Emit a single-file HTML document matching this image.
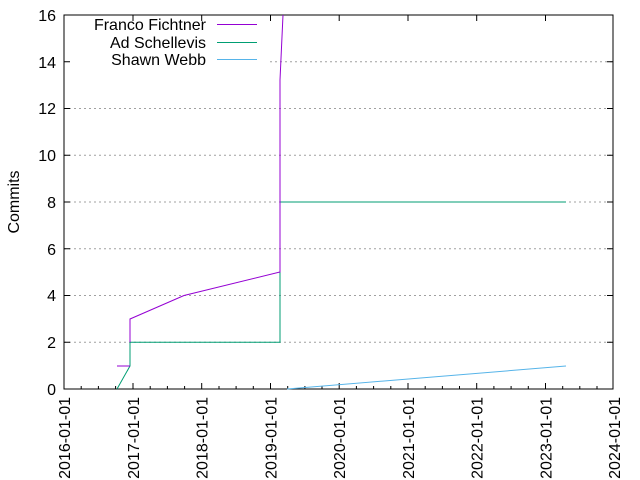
<!DOCTYPE html>
<html><head><style>body{margin:0;background:#fff}svg{display:block}</style></head><body>
<svg width="640" height="480" xmlns="http://www.w3.org/2000/svg" font-family="Liberation Sans, sans-serif" font-size="16" fill="#000">
<g stroke="#a0a0a0" stroke-dasharray="2,3" stroke-width="1">
<line x1="64" y1="342.3" x2="613" y2="342.3"/><line x1="64" y1="295.5" x2="613" y2="295.5"/>
<line x1="64" y1="248.8" x2="613" y2="248.8"/><line x1="64" y1="202" x2="613" y2="202"/>
<line x1="64" y1="155.3" x2="613" y2="155.3"/><line x1="64" y1="108.5" x2="613" y2="108.5"/>
<line x1="270" y1="61.8" x2="613" y2="61.8"/>
</g>
<rect x="64" y="15" width="549" height="374" fill="none" stroke="#000"/>
<g stroke="#000">
<path d="M64 342.3h6M64 295.5h6M64 248.8h6M64 202h6M64 155.3h6M64 108.5h6M64 61.8h6M607 342.3h6M607 295.5h6M607 248.8h6M607 202h6M607 155.3h6M607 108.5h6M607 61.8h6"/>
<path d="M133 389v-6M201.7 389v-6M270.5 389v-6M339.2 389v-6M408 389v-6M476.7 389v-6M545.5 389v-6M133 15v6M201.7 15v6M270.5 15v6M339.2 15v6M408 15v6M476.7 15v6M545.5 15v6"/>
<path d="M81.2 389v-3M98.4 389v-3M115.6 389v-3M150.2 389v-3M167.4 389v-3M184.6 389v-3M219 389v-3M236.1 389v-3M253.3 389v-3M287.7 389v-3M304.9 389v-3M322 389v-3M356.4 389v-3M373.6 389v-3M390.8 389v-3M425.2 389v-3M442.4 389v-3M459.5 389v-3M493.9 389v-3M511.1 389v-3M528.3 389v-3M562.7 389v-3M579.8 389v-3M597 389v-3"/>
</g>
<g text-anchor="end">
<text x="56" y="395">0</text><text x="56" y="348">2</text><text x="56" y="301">4</text><text x="56" y="255">6</text><text x="56" y="208">8</text><text x="56" y="161">10</text><text x="56" y="114">12</text><text x="56" y="68">14</text><text x="56" y="21">16</text>
</g>
<g text-anchor="end">
<text transform="translate(70,397) rotate(-90)">2016-01-01</text>
<text transform="translate(139,397) rotate(-90)">2017-01-01</text>
<text transform="translate(207.7,397) rotate(-90)">2018-01-01</text>
<text transform="translate(276.5,397) rotate(-90)">2019-01-01</text>
<text transform="translate(345.2,397) rotate(-90)">2020-01-01</text>
<text transform="translate(414,397) rotate(-90)">2021-01-01</text>
<text transform="translate(482.7,397) rotate(-90)">2022-01-01</text>
<text transform="translate(551.5,397) rotate(-90)">2023-01-01</text>
<text transform="translate(620,397) rotate(-90)">2024-01-01</text>
</g>
<text transform="translate(19,202) rotate(-90)" text-anchor="middle">Commits</text>
<g text-anchor="end"><text x="206" y="30">Franco Fichtner</text><text x="206" y="48">Ad Schellevis</text><text x="206" y="65">Shawn Webb</text></g>
<g fill="none" stroke-width="1">
<path d="M217 24.5h40" stroke="#9400d3"/><path d="M217 42.5h40" stroke="#009e73"/><path d="M217 59.5h40" stroke="#56b4e9"/>
<path d="M287 389L566 366" stroke="#56b4e9"/>
<path d="M117 389L130 366V342.3H280V202H566" stroke="#009e73"/>
<path d="M117 366H130M130 342.3V319L184 295.5L280 272V80L283 15" stroke="#9400d3"/>
</g>
</svg>
</body></html>
